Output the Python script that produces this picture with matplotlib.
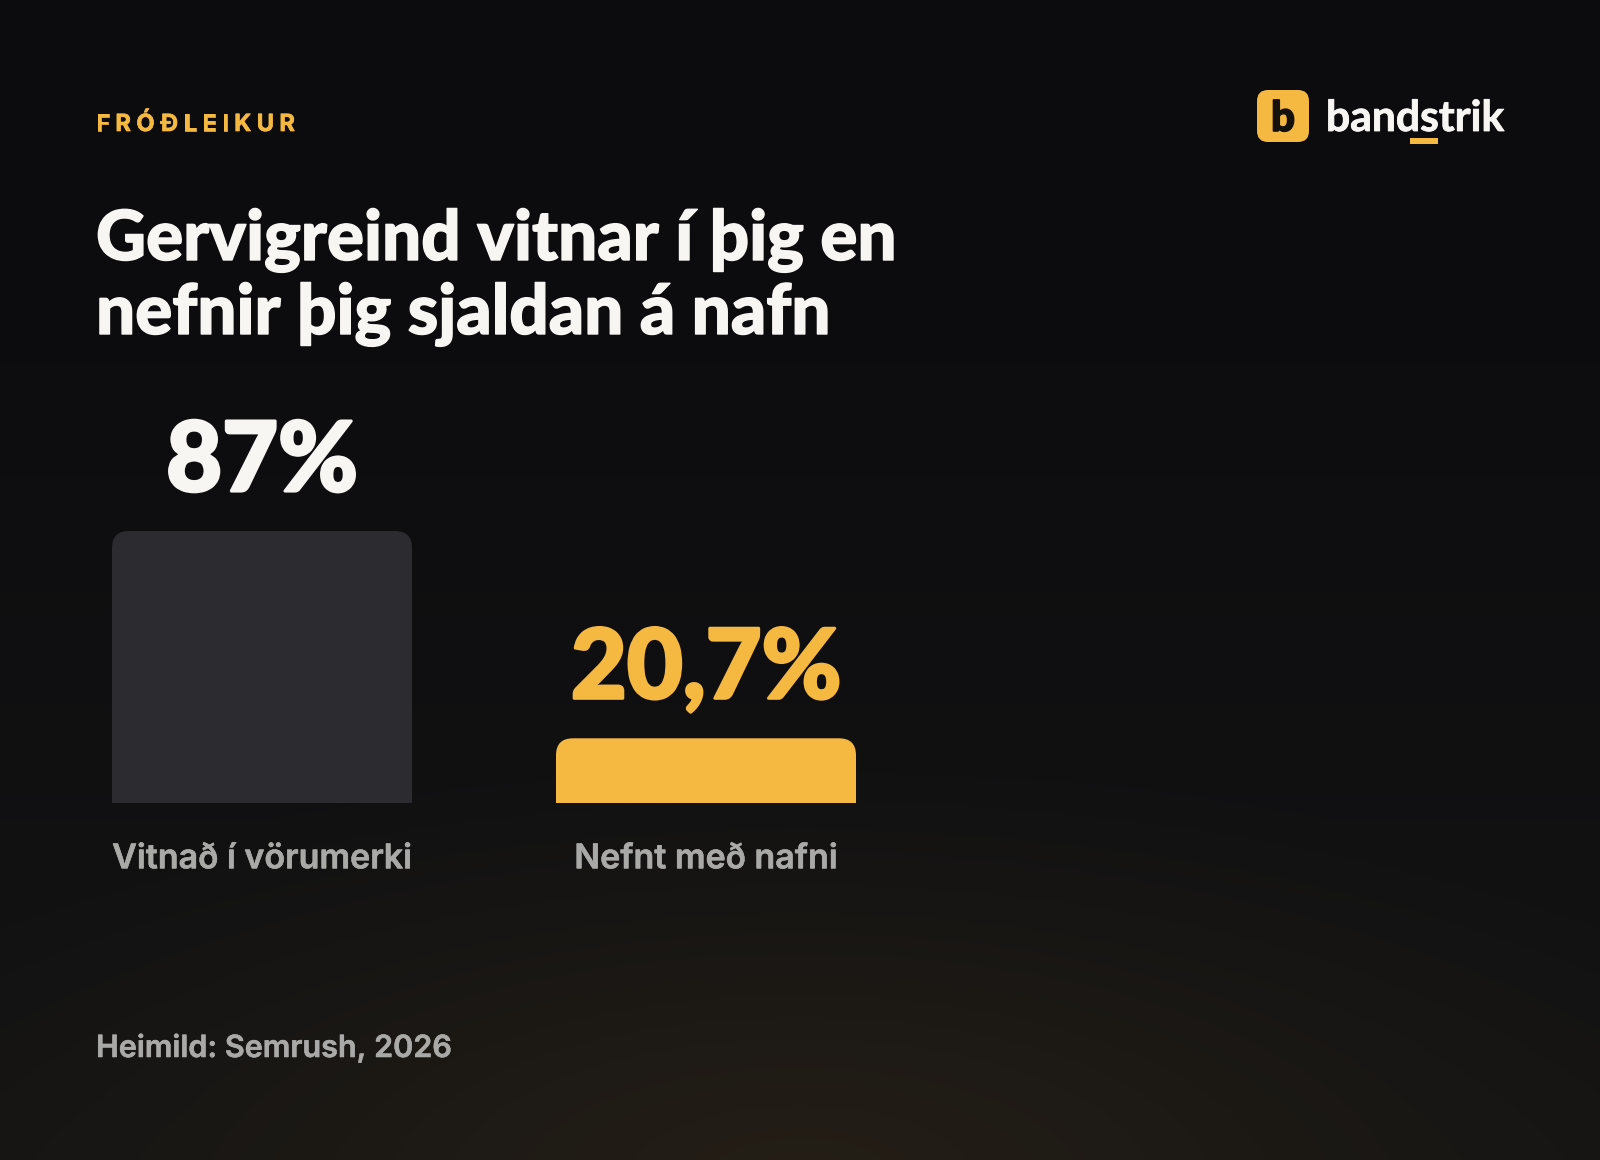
import numpy as np
import matplotlib
matplotlib.use("Agg")
import matplotlib.pyplot as plt
import matplotlib.patheffects as pe
from matplotlib.path import Path
from matplotlib.patches import PathPatch, FancyBboxPatch

categories = ["Vitnað í vörumerki", "Nefnt með nafni"]
values = [87.0, 20.7]
value_labels = ["87%", "20,7%"]
bar_colors = ["#2b2b30", "#f5b841"]
label_colors = ["#f7f6f2", "#f5b841"]
kicker = "FRÓÐLEIKUR"
title_lines = ["Gervigreind vitnar í þig en", "nefnir þig sjaldan á nafn"]
source = "Heimild: Semrush, 2026"
brand = "bandstrik"

W, H = 1600, 1160
GOLD = "#f5b841"
WHITE = "#f7f6f2"
GREY = "#a9a9a7"
HEAD = "Lato"
BODY = "Inter"


def heavy(color, width):
    return [pe.withStroke(linewidth=width, foreground=color)]


fig = plt.figure(figsize=(W / 100, H / 100), dpi=100)

# background
bg = fig.add_axes([0, 0, 1, 1], zorder=0)
bg.set_axis_off()
yy, xx = np.mgrid[0:H, 0:W]
base = np.array([12, 12, 15], float)
lift = np.array([20, 20, 20], float)
warm = np.array([36, 30, 22], float)
t = np.clip((yy - 250) / 910, 0, 1)[..., None]
img = base + (lift - base) * t
r = np.sqrt(((xx - 800) / 1000) ** 2 + ((yy - 1175) / 420) ** 2)
a = (np.clip(1 - r, 0, 1) ** 1.1)[..., None]
img = img + (warm - img) * a
bg.imshow(img / 255, extent=(0, W, H, 0), aspect="auto", interpolation="bilinear")
bg.set_xlim(0, W)
bg.set_ylim(H, 0)

# bars
spacing = 444
ax_l, ax_r = 262 - 0.5 * spacing, 706 + 0.5 * spacing
base_y = 803
per_unit = 3.126
ax = fig.add_axes([ax_l / W, 1 - base_y / H, (ax_r - ax_l) / W, 100 * per_unit / H], zorder=1)
ax.patch.set_alpha(0)
ax.set_xlim(-0.5, 1.5)
ax.set_ylim(0, 100)
bars = ax.bar(range(len(values)), values, width=300 / spacing, color=bar_colors, linewidth=0)


def rounded_top(x0, x1, top, rx, ry):
    verts = [(x0, 0), (x0, top - ry), (x0, top), (x0 + rx, top), (x1 - rx, top),
             (x1, top), (x1, top - ry), (x1, 0), (x0, 0)]
    codes = [Path.MOVETO, Path.LINETO, Path.CURVE3, Path.CURVE3, Path.LINETO,
             Path.CURVE3, Path.CURVE3, Path.LINETO, Path.CLOSEPOLY]
    return Path(verts, codes)


for bar, color in zip(bars, bar_colors):
    p = rounded_top(bar.get_x(), bar.get_x() + bar.get_width(), bar.get_height(),
                    17 / spacing, 17 / per_unit)
    bar.set_visible(False)
    ax.add_patch(PathPatch(p, facecolor=color, edgecolor="none", linewidth=0))

for i, (v, lab, c) in enumerate(zip(values, value_labels, label_colors)):
    ax.annotate(lab, (i, v), xytext=(0, 40), textcoords="offset pixels", ha="center", va="baseline",
                fontsize=69.5, fontweight="black", family=HEAD, color=c, path_effects=heavy(c, 2.2))

ax.set_xticks(range(len(categories)), categories, family=BODY, fontsize=24.5, fontweight="semibold", color=GREY)
for lbl in ax.get_xticklabels():
    lbl.set_path_effects(heavy(GREY, 0.4))
ax.tick_params(axis="x", length=0, pad=29)
ax.set_yticks([])
for s in ax.spines.values():
    s.set_visible(False)

# header text
over = fig.add_axes([0, 0, 1, 1], zorder=2)
over.set_axis_off()
over.set_xlim(0, W)
over.set_ylim(H, 0)
renderer = fig.canvas.get_renderer()
x = 96
for ch in kicker:
    t_ = over.text(x, 131, ch, family=BODY, fontsize=17, fontweight="bold", color=GOLD, va="baseline",
                   path_effects=heavy(GOLD, 0.5))
    x += t_.get_window_extent(renderer).width + 5.5

for line, y in zip(title_lines, (260, 334)):
    over.text(96, y, line, family=HEAD, fontsize=49.8, fontweight="black", color=WHITE, va="baseline",
              path_effects=heavy(WHITE, 1.0))

src = over.text(96, 1057, source, family=BODY, fontsize=22, fontweight="semibold", color=GREY, va="baseline",
                path_effects=heavy(GREY, 0.4))

# logo
over.add_patch(FancyBboxPatch((1267, 100), 32, 32, boxstyle="round,pad=10,rounding_size=11",
                              facecolor=GOLD, edgecolor="none"))
over.text(1283, 131, "b", family=HEAD, fontsize=30, fontweight="black", color="#14110c", ha="center", va="baseline",
          path_effects=heavy("#14110c", 1.2))
over.text(1326, 131, brand, family=HEAD, fontsize=30.7, fontweight="bold", color=WHITE, va="baseline",
          path_effects=heavy(WHITE, 0.6))
over.add_patch(plt.Rectangle((1410, 138), 28, 6, facecolor=GOLD, edgecolor="none"))

fig.savefig("out.png", dpi=100)
